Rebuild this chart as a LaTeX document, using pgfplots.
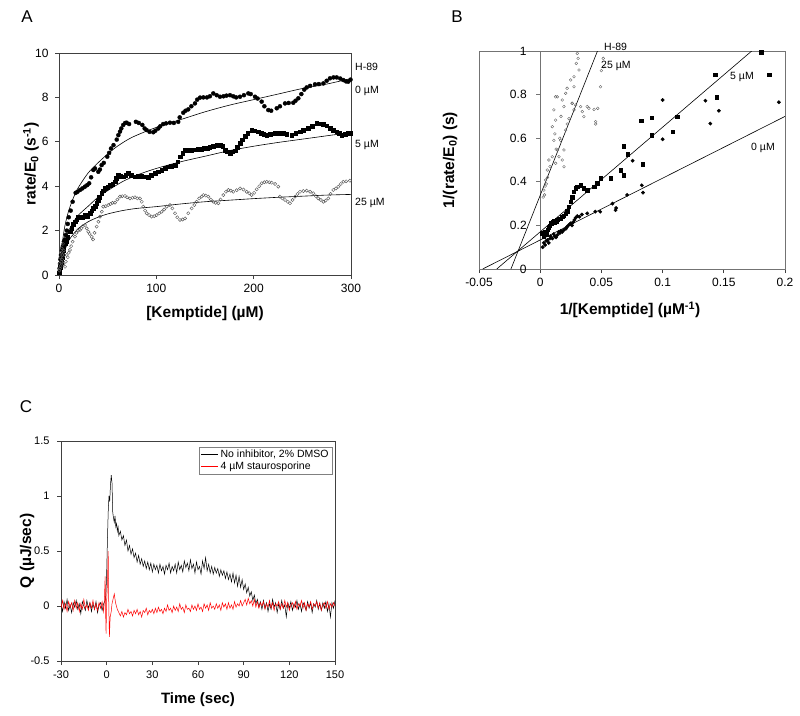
\documentclass[border=0pt]{standalone}
\usepackage{pgfplots}
\pgfplotsset{compat=1.18}
\usepackage{fontspec}
\setmainfont{Liberation Sans}
\begin{document}
\begin{tikzpicture}
\path[use as bounding box] (0pt,0pt) rectangle (800pt,-715pt);
\pgfplotsset{
  every axis/.append style={
    scale only axis, anchor=north west,
    tick label style={font=\fontsize{12}{14}\selectfont},
    /pgf/number format/assume math mode=true,
    tick align=outside, major tick length=4pt,
    xtick pos=left, ytick pos=left,
    axis line style={black!75, line width=0.8pt},
    tick style={black!75, line width=0.7pt},
    xticklabel style={yshift=-2pt},
    yticklabel style={xshift=-3pt},
    scaled ticks=false,
  },
}
% ---------------- Panel A ----------------
\begin{axis}[at={(59pt,-53pt)}, width=292pt, height=222pt,
  xmin=0, xmax=300, ymin=0, ymax=10,
  xtick={0,100,200,300}, xticklabels={0,100,200,300},
  ytick={0,2,4,6,8,10}, yticklabels={0,2,4,6,8,10},
  clip=false]
\addplot[only marks, mark=*, mark size=2pt, black] coordinates {
(0.3,0.1)(0.6,0.3)(1,0.5)(1.5,0.7)(2,0.9)(2.5,0.8)(3,1.1)(3.5,1.2)(4,1.3)(4.5,1.25)(5,1.5)(6,1.6)(7,1.8)(8,2.0)(9,2.3)(10,2.6)(12,2.9)(14,3.3)(17.1,3.7)(19,3.75)(21.6,3.83)(24,3.9)(26.7,3.98)(29,4.05)(31,4.13)(33,4.4)(35.3,4.73)(37,4.8)(40.4,4.65)(42,4.75)(43.8,4.95)(46,5.05)(49.6,5.33)(51.5,5.5)(53.4,5.7)(56,5.85)(59.3,6.1)(61,6.3)(62.7,6.46)(64,6.6)(66,6.76)(68,6.85)(69.5,6.86)(72,6.8)(79,6.9)(82,6.85)(85.6,6.76)(88,6.6)(90,6.53)(93,6.45)(96.9,6.43)(99,6.5)(102,6.6)(104,6.7)(107,6.8)(110,6.83)(114,6.86)(118,6.85)(122.5,6.9)(124,7.1)(127.7,7.31)(130,7.4)(132.8,7.46)(136,7.6)(139.7,7.73)(142,7.9)(144.9,7.99)(148.3,8.0)(152,8.0)(155,8.05)(158.5,8.18)(162,8.1)(165.4,8.03)(169,8.05)(172,8.08)(175.7,8.1)(179,8.05)(182,8.0)(186,8.03)(190,8.1)(194.5,8.18)(197,8.15)(201.4,8.03)(204,7.95)(208.2,7.81)(211,7.6)(215,7.43)(218,7.4)(223.7,7.51)(227,7.6)(232.2,7.73)(236,7.75)(240.7,7.76)(243,7.85)(245.9,7.96)(249,8.15)(252,8.35)(254.5,8.45)(258,8.52)(263,8.59)(267,8.6)(271.6,8.63)(275,8.75)(278.4,8.86)(282,8.9)(285.3,8.9)(289,8.85)(292.1,8.78)(295,8.72)(297.2,8.71)(299.5,8.8)
};
\addplot[only marks, mark=square*, mark size=1.8pt, black] coordinates {
(0.3,0.1)(0.6,0.2)(1,0.35)(1.5,0.45)(2,0.55)(2.5,0.7)(3,0.8)(3.5,0.9)(4,1.0)(4.5,1.1)(5,1.2)(6.2,1.43)(7.5,1.5)(9,1.7)(11.3,1.95)(13,2.1)(14.5,2.3)(16.4,2.4)(18,2.5)(20,2.6)(21.6,2.63)(24,2.6)(26.7,2.7)(29,2.65)(31.8,2.78)(33.5,2.9)(35.3,3.0)(37,3.1)(38.7,3.23)(40,3.35)(41.5,3.5)(43.8,3.68)(45.5,3.8)(47.3,3.9)(50,3.95)(52.4,4.05)(55,4.1)(57.5,4.2)(59,4.35)(61,4.5)(63.5,4.45)(66,4.43)(68.5,4.5)(71.2,4.58)(74,4.5)(78,4.43)(81,4.45)(85,4.46)(88,4.42)(91.7,4.4)(95,4.5)(98.6,4.58)(102,4.65)(105.5,4.73)(109,4.8)(112.3,4.88)(115.5,4.9)(119.2,4.95)(122,5.1)(124.3,5.33)(127,5.5)(129.5,5.63)(133,5.62)(136,5.63)(140,5.64)(143.2,5.66)(146,5.68)(149,5.7)(152,5.72)(155,5.75)(158.5,5.81)(162,5.85)(165.4,5.86)(168,5.8)(170.5,5.63)(173,5.55)(175.7,5.5)(178,5.55)(180.8,5.6)(183,5.75)(186,5.93)(188.5,6.1)(191.1,6.26)(194,6.4)(197.9,6.53)(201,6.5)(204.8,6.46)(208,6.4)(210.5,6.35)(213.4,6.31)(217,6.33)(221.9,6.38)(226,6.4)(230.5,6.38)(234,6.35)(239,6.31)(243,6.38)(247.6,6.46)(251,6.52)(256.2,6.6)(260,6.7)(264.7,6.83)(268,6.82)(271.6,6.8)(275,6.72)(278.4,6.6)(282,6.52)(285.3,6.46)(288,6.38)(290.4,6.31)(294,6.33)(297.2,6.38)(299.5,6.4)
};
\addplot[only marks, mark=o, mark size=1.6pt, black!65, mark options={line width=0.45pt}] coordinates {
(0.3,0.2)(0.6,0.5)(1,0.3)(1.3,0.8)(1.7,0.4)(2,1.0)(2.4,0.6)(2.8,1.2)(3.2,0.7)(3.6,0.9)(4,1.4)(4.5,0.5)(5,1.1)(5.5,0.9)(6.2,0.37)(7,0.6)(8,0.9)(9,0.8)(10,1.0)(11.3,1.13)(12.5,1.3)(14,1.5)(16.4,1.73)(18,1.9)(19.5,2.0)(21.6,2.03)(23,2.1)(24.5,2.2)(26.7,2.25)(28.5,2.1)(30.1,1.95)(31.5,1.85)(33.6,1.72)(35,1.6)(36.5,1.9)(38.7,2.18)(40.5,2.4)(42.1,2.63)(44,2.85)(45.5,3.08)(48,3.1)(50.6,3.15)(53,3.2)(55,3.25)(57.5,3.26)(60,3.4)(62.7,3.53)(65,3.55)(67.8,3.56)(70,3.5)(72.9,3.45)(75.5,3.48)(78,3.5)(80.5,3.45)(83.2,3.45)(85,3.3)(86.6,3.08)(88.5,2.9)(90.1,2.78)(92.5,2.7)(95.2,2.63)(97.8,2.65)(100.4,2.7)(103,2.78)(105.5,2.85)(108,2.95)(110.7,3.08)(114,3.15)(116.5,3.0)(119.2,2.78)(121.5,2.6)(124.3,2.48)(127,2.5)(129.5,2.55)(132.8,2.78)(136.3,3.0)(139,3.15)(141.4,3.3)(144,3.45)(146.6,3.53)(148.3,3.6)(150.8,3.58)(153.4,3.53)(156,3.4)(158.5,3.3)(161,3.25)(163.7,3.23)(166,3.4)(168.8,3.6)(171.5,3.75)(174,3.83)(176.5,3.8)(179.1,3.75)(182.5,3.82)(186,3.9)(189.5,3.85)(192.8,3.75)(195.5,3.68)(197.9,3.6)(200.5,3.7)(203.1,3.86)(205.7,4.0)(208.2,4.13)(211,4.18)(213.4,4.2)(216,4.18)(218.5,4.16)(222,4.1)(225.3,3.98)(227,3.53)(229.5,3.45)(232.2,3.38)(235,3.3)(237.3,3.23)(240,3.38)(242.5,3.53)(245,3.65)(247.6,3.75)(251,3.78)(254.5,3.8)(258,3.75)(261.3,3.68)(264,3.55)(266.4,3.45)(269,3.38)(271.6,3.3)(274,3.35)(276.7,3.45)(279,3.65)(281.8,3.83)(284.5,3.9)(287,3.98)(289.5,4.1)(292.1,4.2)(295,4.22)(298.9,4.25)
};
\addplot[black, line width=0.6pt, smooth] coordinates {(0,0)(3,1.3)(6,2.2)(10,2.9)(15,3.5)(20,3.95)(30,4.6)(40,5.05)(50,5.45)(60,5.8)(75,6.2)(100,6.65)(125,7.0)(150,7.35)(175,7.65)(200,7.9)(225,8.15)(250,8.4)(275,8.6)(300,8.85)};
\addplot[black, line width=0.6pt, smooth] coordinates {(0,0)(3,0.9)(6,1.5)(10,2.0)(15,2.4)(20,2.7)(30,3.1)(40,3.5)(50,3.8)(65,4.2)(80,4.5)(100,4.8)(125,5.1)(150,5.35)(175,5.6)(200,5.8)(225,5.97)(250,6.12)(275,6.27)(300,6.42)};
\addplot[black, line width=0.6pt, smooth] coordinates {(0,0)(2,0.6)(5,1.0)(10,1.55)(15,1.85)(20,2.1)(30,2.4)(40,2.6)(50,2.75)(65,2.9)(80,3.0)(100,3.08)(125,3.2)(150,3.3)(175,3.37)(200,3.44)(225,3.5)(250,3.55)(275,3.6)(300,3.63)};
\end{axis}
% ---------------- Panel B ----------------
\begin{axis}[at={(479pt,-51pt)}, width=306pt, height=218pt,
  xmin=-0.05, xmax=0.2, ymin=0, ymax=1,
  xtick={-0.05,0,0.05,0.1,0.15,0.2}, xticklabels={-0.05,0,0.05,0.1,0.15,0.2},
  ytick={0,0.2,0.4,0.6,0.8,1}, yticklabels={0,0.2,0.4,0.6,0.8,1},
  ytick style={draw=none},
  yticklabel style={xshift=58.2pt},
  axis line style={black!55, line width=1pt}]
\draw[black!55, line width=1.2pt] (axis cs:0,0) -- (axis cs:0,1);
\pgfplotsinvokeforeach{0,0.2,0.4,0.6,0.8,1}{\draw[black!55, line width=0.7pt] (axis cs:0,#1) -- ++(-4pt,0pt);}
\addplot[only marks, mark=o, mark size=1.4pt, black!60, mark options={line width=0.4pt}] coordinates {
(0.0024,0.33)(0.003,0.362)(0.0035,0.34)(0.004,0.38)(0.0044,0.408)(0.005,0.39)(0.0058,0.454)(0.006,0.42)(0.0071,0.5)(0.008,0.47)(0.0098,0.515)(0.0099,0.653)(0.0112,0.59)(0.0112,0.73)(0.012,0.62)(0.0126,0.485)(0.0126,0.683)(0.0126,0.79)(0.013,0.55)(0.014,0.546)(0.014,0.79)(0.0153,0.515)(0.016,0.6)(0.0167,0.59)(0.017,0.7)(0.018,0.5)(0.018,0.775)(0.0194,0.546)(0.0194,0.469)(0.0194,0.745)(0.0208,0.637)(0.0208,0.806)(0.0221,0.665)(0.022,0.829)(0.0235,0.69)(0.0249,0.867)(0.026,0.76)(0.0262,0.76)(0.0276,0.73)(0.0276,0.836)(0.0276,0.882)(0.029,0.752)(0.0295,0.943)(0.0303,0.989)(0.031,0.966)(0.0317,0.913)(0.033,0.745)(0.0344,0.722)(0.0357,0.699)(0.0384,0.745)(0.0398,0.737)(0.044,0.732)(0.0453,0.676)(0.0453,0.665)(0.047,0.737)(0.0493,0.836)(0.05,0.91)(0.0515,0.966)(0.052,0.928)
};
\addplot[only marks, mark=*, mark size=1.7pt, black] coordinates {
(0.002,0.10)(0.003,0.12)(0.004,0.11)(0.005,0.13)(0.006,0.133)(0.007,0.12)(0.008,0.14)(0.0085,0.15)(0.01,0.14)(0.011,0.16)(0.012,0.15)(0.013,0.145)(0.014,0.156)(0.015,0.17)(0.016,0.165)(0.017,0.175)(0.018,0.17)(0.0194,0.179)(0.021,0.185)(0.022,0.194)(0.023,0.20)(0.024,0.205)(0.025,0.21)(0.026,0.2)(0.027,0.215)(0.028,0.225)(0.029,0.235)(0.0303,0.243)(0.032,0.24)(0.034,0.25)(0.0384,0.255)(0.045,0.263)(0.049,0.263)(0.059,0.30)(0.0616,0.27)(0.062,0.28)(0.071,0.34)(0.0755,0.497)(0.083,0.384)(0.084,0.35)(0.1,0.595)(0.1,0.775)(0.135,0.772)(0.139,0.667)(0.146,0.726)(0.195,0.765)
};
\addplot[only marks, mark=square*, mark size=1.7pt, black] coordinates {
(0.0017,0.164)(0.003,0.15)(0.004,0.17)(0.005,0.16)(0.006,0.18)(0.007,0.19)(0.008,0.2)(0.009,0.21)(0.01,0.217)(0.011,0.22)(0.012,0.215)(0.013,0.22)(0.014,0.225)(0.015,0.23)(0.0167,0.232)(0.018,0.24)(0.019,0.245)(0.0207,0.255)(0.022,0.265)(0.0235,0.286)(0.025,0.309)(0.026,0.33)(0.0276,0.355)(0.029,0.37)(0.0303,0.378)(0.033,0.385)(0.0357,0.37)(0.0384,0.362)(0.044,0.378)(0.0466,0.393)(0.0493,0.416)(0.0575,0.416)(0.068,0.43)(0.0657,0.454)(0.0837,0.48)(0.0717,0.526)(0.068,0.564)(0.091,0.613)(0.108,0.63)(0.0826,0.68)(0.091,0.694)(0.112,0.70)(0.144,0.788)(0.143,0.89)(0.187,0.89)(0.1806,0.994)
};
\addplot[black, line width=0.6pt] coordinates {(-0.047,0)(0.2,0.70)};
\addplot[black, line width=0.6pt] coordinates {(-0.0355,0)(0.1728,1)};
\addplot[black, line width=0.6pt] coordinates {(-0.0239,0)(0.0468,1)};
\end{axis}
% ---------------- Panel C ----------------
\begin{axis}[at={(61pt,-441pt)}, width=274pt, height=220pt,
  xmin=-30, xmax=150, ymin=-0.5, ymax=1.5,
  tick label style={font=\fontsize{11}{13}\selectfont},
  yticklabel style={xshift=-1pt},
  xtick={-30,0,30,60,90,120,150}, xticklabels={-30,0,30,60,90,120,150},
  ytick={-0.5,0,0.5,1,1.5}, yticklabels={-0.5,0,0.5,1,1.5},
  legend style={at={(0.99,0.975)}, anchor=north east, draw=black!50, line width=0.4pt,
    font=\fontsize{10.5}{12}\selectfont, row sep=-1.5pt, inner sep=1.5pt},
  legend cell align=left,
  legend image post style={line width=0.6pt}]
\addplot[black, line width=0.5pt] coordinates {
(-30,0.02)(-29,-0.05)(-28,0.04)(-27,-0.02)(-26,0.06)(-25,-0.04)(-24,0.01)(-23,-0.06)(-22,0.03)(-21,-0.01)(-20,0.05)(-19,-0.03)(-18,0.02)(-17,-0.07)(-16,0.04)(-15,0.0)(-14,-0.04)(-13,0.05)(-12,-0.02)(-11,0.03)(-10,-0.05)(-9,0.02)(-8,-0.03)(-7,0.04)(-6,-0.06)(-5,0.01)(-4,0.03)(-3,-0.04)(-2,0.02)(-1,0.05)(-0.5,0.1)(0,0.3)(0.5,0.6)(1,0.85)(1.5,1.0)(2,0.95)(2.5,1.1)(3,1.19)(3.5,1.12)(4,0.85)(4.5,0.8)(5,0.76)(5.5,0.82)(6,0.72)(6.5,0.75)(7,0.68)(7.5,0.72)(8,0.64)(9,0.68)(10,0.6)(11,0.64)(12,0.55)(13,0.6)(14,0.5)(15,0.55)(16,0.47)(17,0.52)(18,0.44)(19,0.48)(20,0.4)(21,0.46)(22,0.38)(23,0.43)(24,0.36)(25,0.41)(26,0.34)(27,0.4)(28,0.33)(29,0.39)(30,0.31)(31,0.38)(32,0.33)(33,0.37)(34,0.3)(35,0.38)(36,0.32)(37,0.36)(38,0.29)(39,0.37)(40,0.33)(41,0.39)(42,0.3)(43,0.36)(44,0.32)(45,0.38)(46,0.3)(47,0.4)(48,0.33)(49,0.37)(50,0.31)(51,0.41)(52,0.35)(53,0.39)(54,0.32)(55,0.42)(56,0.34)(57,0.38)(58,0.3)(59,0.4)(60,0.33)(61,0.36)(62,0.29)(63,0.41)(64,0.34)(65,0.44)(66,0.32)(67,0.38)(68,0.3)(69,0.36)(70,0.29)(71,0.35)(72,0.3)(73,0.34)(74,0.27)(75,0.33)(76,0.28)(77,0.32)(78,0.25)(79,0.31)(80,0.24)(81,0.29)(82,0.22)(83,0.3)(84,0.21)(85,0.28)(86,0.18)(87,0.27)(88,0.17)(89,0.24)(90,0.15)(91,0.2)(92,0.12)(93,0.17)(94,0.09)(95,0.13)(96,0.05)(97,0.1)(98,0.02)(99,0.06)(100,-0.01)(101,0.04)(102,-0.03)(103,0.05)(104,-0.02)(105,0.03)(106,-0.05)(107,0.02)(108,-0.03)(109,0.06)(110,-0.01)(111,0.03)(112,-0.06)(113,0.02)(114,-0.03)(115,0.05)(116,-0.02)(117,0.01)(118,-0.1)(119,0.03)(120,-0.02)(121,0.04)(122,-0.04)(123,0.02)(124,-0.01)(125,0.05)(126,-0.03)(127,0.02)(128,-0.05)(129,0.03)(130,0.0)(131,-0.04)(132,0.04)(133,-0.02)(134,0.03)(135,-0.06)(136,0.02)(137,-0.01)(138,0.05)(139,-0.03)(140,0.02)(141,-0.04)(142,0.03)(143,-0.02)(144,0.04)(145,-0.05)(146,0.02)(147,-0.1)(148,0.03)(149,-0.02)(150,0.05)
};
\addlegendentry{No inhibitor, 2\% DMSO}
\addplot[red, line width=0.5pt] coordinates {
(-30,-0.02)(-29,0.05)(-28,-0.03)(-27,0.02)(-26,-0.05)(-25,0.04)(-24,-0.01)(-23,0.03)(-22,-0.04)(-21,0.05)(-20,-0.02)(-19,0.03)(-18,-0.05)(-17,0.02)(-16,-0.03)(-15,0.06)(-14,-0.02)(-13,0.01)(-12,-0.04)(-11,0.03)(-10,-0.02)(-9,0.05)(-8,-0.03)(-7,0.02)(-6,-0.04)(-5,0.03)(-4,-0.02)(-3,0.04)(-2,-0.05)(-1.5,0.05)(-1,0.27)(-0.7,-0.05)(-0.4,-0.25)(0,0.05)(0.5,0.2)(1,0.5)(1.4,0.0)(1.8,-0.28)(2.3,-0.1)(3,-0.05)(3.5,0.02)(4,0.05)(5,0.11)(5.5,0.06)(6,0.02)(7,-0.03)(8,-0.06)(9,-0.09)(10,-0.05)(11,-0.1)(12,-0.06)(13,-0.08)(14,-0.03)(15,-0.07)(16,-0.05)(17,-0.09)(18,-0.04)(19,-0.07)(20,-0.03)(21,-0.08)(22,-0.05)(23,-0.1)(24,-0.04)(25,-0.06)(26,-0.02)(27,-0.08)(28,-0.04)(29,-0.06)(30,-0.03)(31,-0.07)(32,-0.02)(33,-0.06)(34,-0.01)(35,-0.05)(36,-0.03)(37,-0.07)(38,-0.02)(39,-0.05)(40,0.01)(41,-0.04)(42,-0.02)(43,-0.06)(44,0.0)(45,-0.04)(46,-0.01)(47,-0.05)(48,0.02)(49,-0.03)(50,-0.01)(51,-0.06)(52,0.01)(53,-0.03)(54,-0.02)(55,-0.05)(56,0.01)(57,-0.03)(58,0.0)(59,-0.04)(60,0.02)(61,-0.03)(62,-0.01)(63,-0.05)(64,0.02)(65,-0.02)(66,0.01)(67,-0.04)(68,0.03)(69,-0.02)(70,0.0)(71,-0.03)(72,0.02)(73,-0.02)(74,0.01)(75,-0.04)(76,0.03)(77,-0.01)(78,0.02)(79,-0.03)(80,0.03)(81,-0.02)(82,0.01)(83,-0.03)(84,0.04)(85,-0.01)(86,0.02)(87,0.0)(88,0.05)(89,0.0)(90,0.03)(91,0.06)(92,0.01)(93,0.07)(94,0.02)(95,0.05)(96,0.0)(97,0.06)(98,-0.01)(99,0.04)(100,-0.02)(101,0.03)(102,0.0)(103,0.04)(104,-0.03)(105,0.02)(106,-0.01)(107,0.05)(108,-0.02)(109,0.03)(110,-0.04)(111,0.02)(112,0.0)(113,0.04)(114,-0.03)(115,0.02)(116,-0.02)(117,0.05)(118,-0.01)(119,0.03)(120,-0.04)(121,0.01)(122,0.03)(123,-0.02)(124,0.04)(125,-0.03)(126,0.02)(127,0.0)(128,0.05)(129,-0.02)(130,0.03)(131,-0.04)(132,0.02)(133,-0.01)(134,0.04)(135,-0.03)(136,0.02)(137,0.0)(138,0.04)(139,-0.02)(140,0.03)(141,-0.04)(142,0.01)(143,0.03)(144,-0.02)(145,0.04)(146,-0.03)(147,0.02)(148,-0.01)(149,0.03)(150,0.0)
};
\addlegendentry{4 µM staurosporine}
\end{axis}
% ---------------- Text ----------------
\node[font=\fontsize{17}{19}\selectfont] at (27pt,-17pt) {A};
\node[font=\fontsize{17}{19}\selectfont] at (457pt,-17pt) {B};
\node[font=\fontsize{17}{19}\selectfont] at (26pt,-407pt) {C};
\node[font=\fontsize{15.5}{17}\selectfont\bfseries] at (205pt,-313pt) {[Kemptide] (µM)};
\node[font=\fontsize{15.5}{17}\selectfont\bfseries, rotate=90] at (31pt,-164pt) {rate/E\textsubscript{0} (s\textsuperscript{-1})};
\node[font=\fontsize{15.5}{17}\selectfont\bfseries] at (630pt,-310pt) {1/[Kemptide] (µM\textsuperscript{-1})};
\node[font=\fontsize{15.5}{17}\selectfont\bfseries, rotate=90] at (450pt,-160pt) {1/(rate/E\textsubscript{0}) (s)};
\node[font=\fontsize{15}{17}\selectfont\bfseries] at (198pt,-700pt) {Time (sec)};
\node[font=\fontsize{15.5}{17}\selectfont\bfseries, rotate=90] at (27pt,-551pt) {Q (µJ/sec)};
\begin{scope}[every node/.style={anchor=west, inner sep=0pt, font=\fontsize{10.5}{12}\selectfont}]
\node at (355pt,-67pt) {H-89};
\node at (355pt,-91pt) {0 µM};
\node at (355pt,-145pt) {5 µM};
\node at (355pt,-203pt) {25 µM};
\node at (604pt,-47pt) {H-89};
\node at (601pt,-66pt) {25 µM};
\node at (730pt,-77pt) {5 µM};
\node at (751pt,-148pt) {0 µM};
\end{scope}
\end{tikzpicture}
\end{document}
